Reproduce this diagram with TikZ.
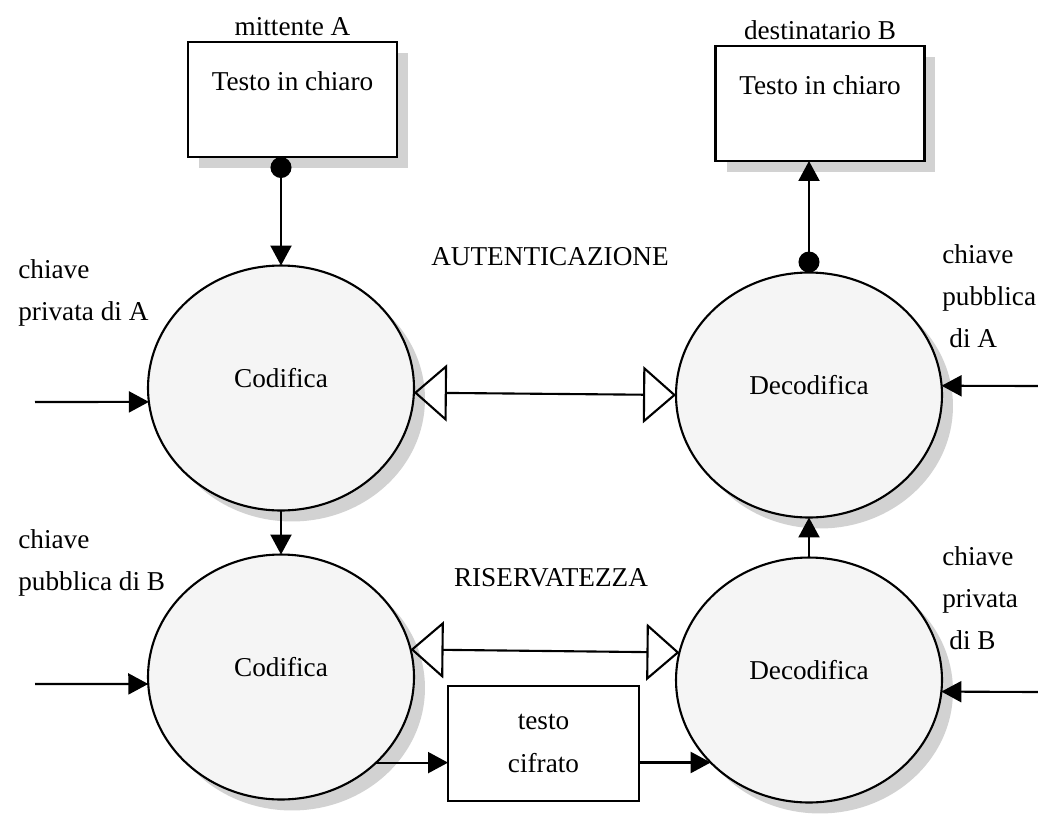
\documentclass[tikz,border=0pt]{standalone}
\usepackage{fontspec}
\setmainfont{Liberation Serif}
\usepackage{tikz}
\usetikzlibrary{arrows.meta}
\usetikzlibrary{shapes.geometric}
\usetikzlibrary{shadows}
\tikzset{>=latex}
\tikzstyle{ombra} = [drop shadow={shadow xshift=0.22cm, shadow yshift=-0.22cm, fill=gray!35, opacity=1}]
\tikzstyle{proc} = [ellipse, draw, line width=1.2pt, fill=gray!8, minimum width=5.32cm, minimum height=4.9cm, inner sep=0pt, outer sep=0pt, text depth=11.5pt, ombra]
\tikzstyle{doc} = [rectangle, draw, line width=1.2pt, fill=white, minimum width=4.18cm, minimum height=2.3cm, outer sep=0pt, text depth=21pt, ombra]
\tikzstyle{freccia} = [-{Triangle[length=0.4cm,width=0.42cm]}, line width=1.2pt]
\tikzstyle{doppia} = [{Triangle[open,length=0.66cm,width=1.14cm]}-{Triangle[open,length=0.66cm,width=1.14cm]}, line width=1.2pt]
\tikzstyle{punto} = [{Circle[length=0.42cm]}-{Triangle[length=0.4cm,width=0.42cm]}, line width=1.2pt]
\tikzstyle{chiave} = [anchor=north west, align=left, inner sep=0pt]

\begin{document}
\begin{tikzpicture}[x=0.02cm, y=-0.02cm, every node/.style={font=\fontsize{15.5}{24}\selectfont}]
\useasboundingbox (0,0) rectangle (1038,816);
% documenti in chiaro
\node [doc, label=above:mittente A] (TA) at (292.5,99.5) {Testo in chiaro};
\node [doc, label=above:destinatario B] (TB) at (820,103.5) {Testo in chiaro};
% codifica / decodifica
\node [proc] (CA) at (281,388) {Codifica};
\node [proc] (DA) at (809,395) {Decodifica};
\node [proc] (CB) at (281,677) {Codifica};
\node [proc] (DB) at (809,680) {Decodifica};
\node [rectangle, draw, line width=1.2pt, fill=white, minimum width=3.82cm, minimum height=2.3cm, align=center, outer sep=0pt] (TC) at (543.5,743.5) {testo\\cifrato};
% testi
\node (aut) at (550,257) {AUTENTICAZIONE};
\node (ris) at (551,578) {RISERVATEZZA};
\node [chiave] (kA) at (18,259) {chiave\\privata di A};
\node [chiave] (kB) at (18,529) {chiave\\pubblica di B};
\node [chiave] (kC) at (942,244) {chiave\\pubblica\\\hspace*{4pt}di A};
\node [chiave] (kD) at (942,546) {chiave\\privata\\\hspace*{4pt}di B};
% frecce
\coordinate (iA) at (35,402);
\coordinate (iB) at (35,684);
\coordinate (iC) at (1038,386);
\coordinate (iD) at (1038,692);
\draw [punto] (CA.north |- TA.south) -- (CA.north);
\draw [punto] (DA.north) -- (DA.north |- TB.south);
\draw [freccia] (CA.south) -- (CB.north);
\draw [freccia] (DB.north) -- (DA.south);
\draw [doppia] (CA.-2) -- (DA.west);
\draw [doppia] (CB.12) -- (DB.168);
\draw [freccia] (CB.-42) -- (CB.-42 -| TC.west);
\draw [freccia] (TC.east |- DB.220) -- (DB.220);
\draw [freccia] (iA) -- (CA.186);
\draw [freccia] (iB) -- (CB.183);
\draw [freccia] (iC) -- (DA.4);
\draw [freccia] (iD) -- (DB.-5);
\end{tikzpicture}
\end{document}
